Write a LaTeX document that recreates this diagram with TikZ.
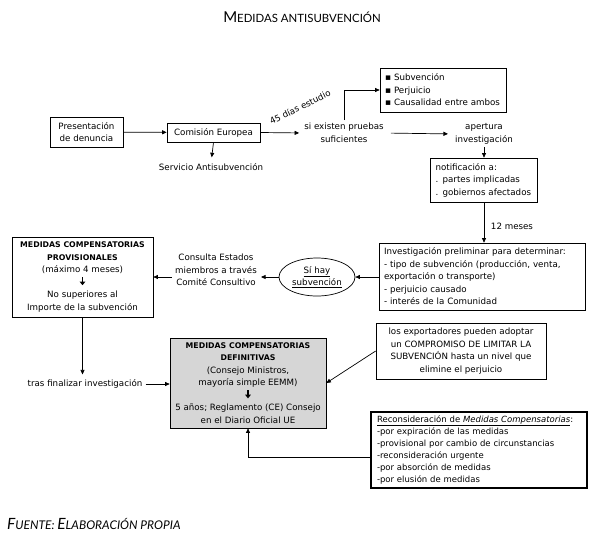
\documentclass[tikz,border=0pt]{standalone}
\usepackage{fontspec}
\setmainfont{DejaVu Sans}
\newfontfamily\titlefont{Lato}
\usetikzlibrary{arrows.meta,shapes.geometric}
\begin{document}
\begin{tikzpicture}[x=1pt,y=-1pt,
  txt/.style={font=\fontsize{8.7}{12.5}\selectfont, align=center, inner sep=0pt},
  box/.style={draw, line width=0.7pt, txt, inner xsep=5pt, inner ysep=0pt},
  lbox/.style={box, align=left},
  arr/.style={-{Triangle[length=4.5pt,width=4pt]}, line width=0.7pt},
]
\newcommand\bb[1]{{\fontsize{7.8}{12.5}\selectfont\bfseries #1}}
\newcommand\dn{\tikz[x=1pt,y=1pt,baseline=0pt]{\draw[line width=1.3pt,-{Triangle[length=3.6pt,width=5.5pt]}] (0,8) -- (0,0);}}
\useasboundingbox (0,0) rectangle (599,544);
\fill[white] (0,0) rectangle (599,544);

% title and source
\node[inner sep=0pt] (title) at (302,17) {\titlefont{\fontsize{15}{15}\selectfont M}{\fontsize{11.4}{11.4}\selectfont EDIDAS ANTISUBVENCIÓN}};
\node[inner sep=0pt, anchor=west] (fuente) at (7,524) {\titlefont\itshape{\fontsize{15.5}{15.5}\selectfont F}{\fontsize{12}{12}\selectfont UENTE: }{\fontsize{15.5}{15.5}\selectfont E}{\fontsize{12}{12}\selectfont LABORACIÓN PROPIA}};

% top row
\node[box, minimum width=73pt, minimum height=30pt] (pres) at (86.5,132) {Presentación\\de denuncia};
\node[box, minimum width=93pt, minimum height=19pt] (com) at (213.5,132.5) {Comisión Europea};
\node[txt] (serv) at (211,167) {Servicio Antisubvención};
\node[txt] (si) at (344,133) {si existen pruebas\\suficientes};
\node[lbox, text width=116pt, minimum height=44pt] (bul) at (443,90) {{\small▪} Subvención\\{\small▪} Perjuicio\\{\small▪} Causalidad entre ambos};
\node[txt] (ap) at (484,134) {apertura\\investigación};
\node[lbox, text width=97pt, minimum height=44pt] (not) at (484,180) {notificación a:\\. partes implicadas\\. gobiernos afectados};
\node[txt] (twelve) at (512,226) {12 meses};

% middle row
\node[lbox, text width=196pt, minimum height=67pt] (inv) at (482,276.5) {Investigación preliminar para determinar:\\- tipo de subvención (producción, venta,\\exportación o transporte)\\- perjuicio causado\\- interés de la Comunidad};
\node[draw, ellipse, line width=0.7pt, txt, minimum width=76pt, minimum height=38pt] (ell) at (317,277) {\underline{Sí hay}\\\underline{subvención}};
\node[txt] (cons) at (216,270) {Consulta Estados\\miembros a través\\Comité Consultivo};
\node[box, minimum width=141pt, minimum height=80pt] (prov) at (82.5,277) {\bb{MEDIDAS COMPENSATORIAS}\\\bb{PROVISIONALES}\\(máximo 4 meses)\\\dn\\No superiores al\\Importe de la subvención};

% bottom row
\node[txt] (tras) at (85,384) {tras finalizar investigación};
\node[box, fill=black!16, minimum width=156pt, minimum height=90pt] (def) at (248,383) {\bb{MEDIDAS COMPENSATORIAS}\\\bb{DEFINITIVAS}\\(Consejo Ministros,\\mayoría simple EEMM)\\\dn\\5 años; Reglamento (CE) Consejo\\en el Diario Oficial UE};
\node[box, minimum width=170pt, minimum height=56pt] (comp) at (461,351) {los exportadores pueden adoptar\\un COMPROMISO DE LIMITAR LA\\SUBVENCIÓN hasta un nivel que\\elimine el perjuicio};
\node[lbox, line width=1.6pt, text width=204pt, inner xsep=6pt, minimum height=76pt, font=\fontsize{8.5}{12}\selectfont] (rec) at (479,450) {\underline{Reconsideración de \textit{Medidas Compensatorias}}:\\-por expiración de las medidas\\-provisional por cambio de circunstancias\\-reconsideración urgente\\-por absorción de medidas\\-por elusión de medidas};

% connectors
\draw[arr] (pres) -- (com);
\draw[arr, shorten >=6pt] (com.south) -- (serv.north);
\draw[arr, shorten >=5pt] (com.east) -- (si.west);
\node[txt, rotate=26] (l45) at (300,107) {45 días estudio};
\draw[arr, shorten <=3pt] (si.north) |- (bul.west);
\draw[arr, shorten <=7pt, shorten >=7pt] (si.east) -- (ap.west);
\draw[arr, shorten <=3pt] (ap.south) -- (ap.south |- not.north);
\draw[arr] (not.south) -- (not.south |- inv.north);
\draw[arr] (inv.west |- ell.east) -- (ell.east);
\draw[arr, shorten >=4pt] (ell.west) -- (ell.west -| cons.east);
\draw[arr, shorten <=3pt] (cons.west |- prov.east) -- (prov.east);
\draw[arr, shorten >=5pt] (prov.south) -- (prov.south |- tras.north);
\draw[arr, shorten <=3pt] (tras.east) -- (tras.east -| def.west);
\draw[arr] (comp.west) -- (def.east);
\draw[arr] ([yshift=-7pt]rec.west) -| (def.south);
\end{tikzpicture}
\end{document}
